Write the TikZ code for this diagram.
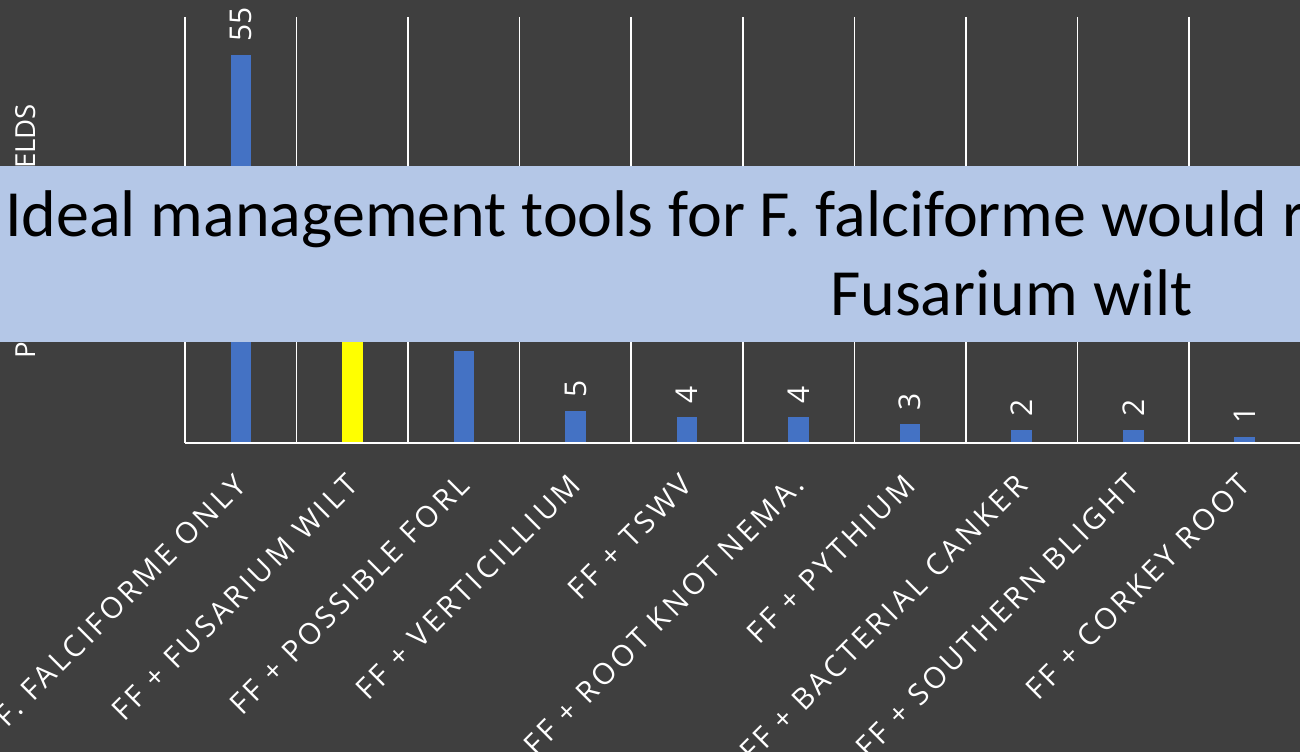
\documentclass[tikz,border=0pt]{standalone}
\usepackage{fontspec}
\setmainfont{Open Sans}
\newfontfamily\bannerfont{Carlito}
\newfontfamily\axisfont[LetterSpace=12]{Open Sans}
\newfontfamily\valfont[LetterSpace=2]{Open Sans}
\newfontfamily\titlefont{Open Sans}

\definecolor{bgcol}{HTML}{3F3F3F}
\definecolor{barblue}{HTML}{4472C4}
\definecolor{baryellow}{HTML}{FFFF00}
\definecolor{bannercol}{HTML}{B4C7E7}

\tikzset{
  gridline/.style={draw=white, line width=1.5pt},
  axisline/.style={draw=white, line width=2pt},
  bar/.style={fill=barblue},
  hibar/.style={fill=baryellow},
  vallabel/.style={text=white, inner sep=0pt, rotate=90, anchor=west,
    font=\valfont\fontsize{30}{34}\selectfont},
  catlabel/.style={text=white, inner sep=0pt, rotate=45, anchor=north east,
    font=\axisfont\fontsize{29.5}{33}\selectfont},
  ytitle/.style={text=white, inner sep=0pt, rotate=90, anchor=base west,
    font=\titlefont\fontsize{27.6}{32}\selectfont},
  bannertext/.style={text=black, inner sep=0pt, anchor=base west,
    font=\bannerfont\fontsize{66}{80}\selectfont},
}

\begin{document}
\begin{tikzpicture}[x=1pt, y=-1pt]
  \useasboundingbox (0,0) rectangle (1300,752);
  \clip (0,0) rectangle (1300,752);
  \fill[bgcol] (0,0) rectangle (1300,752);

  % category grid
  \foreach \i in {0,...,10}
    \draw[gridline] (185+111.55*\i,17) -- (185+111.55*\i,443);
  \draw[axisline] (185,443) -- (1300,443);

  % bars: index / top edge / style
  \foreach \i/\top/\st in {0/55/bar, 1/280/hibar, 2/351/bar, 3/410.5/bar,
      4/417/bar, 5/417/bar, 6/423.7/bar, 7/430/bar, 8/430/bar, 9/436.7/bar} {
    \path[\st] (185+111.55*\i+55.8-10.3,\top) rectangle (185+111.55*\i+55.8+10.3,442);
    \coordinate (top\i) at (185+111.55*\i+55.8,\top);
  }

  % value labels
  \foreach \i/\v in {0/55, 3/5, 4/4, 5/4, 6/3, 7/2, 8/2, 9/1}
    \node[vallabel] (val\i) at ([yshift=13pt]top\i) {\v};

  % category labels
  \foreach \i/\t in {0/F. FALCIFORME ONLY, 1/FF + FUSARIUM WILT, 2/FF + POSSIBLE FORL,
      3/FF + VERTICILLIUM, 4/FF + TSWV, 5/FF + ROOT KNOT NEMA., 6/FF + PYTHIUM,
      7/FF + BACTERIAL CANKER, 8/FF + SOUTHERN BLIGHT, 9/FF + CORKEY ROOT}
    \node[catlabel] (cat\i) at (185+111.55*\i+48,472) {\t};

  % value axis title
  \node[ytitle] (ytitle) at (35,359) {PERCENT OF FIELDS};

  % overlay banner
  \fill[bannercol] (0,166) rectangle (1300,342);
  \node[bannertext] (line1) at (5,236) {Ideal management tools for F. falciforme would r};
  \node[bannertext] (line2) at (830,315) {Fusarium wilt};
\end{tikzpicture}
\end{document}
